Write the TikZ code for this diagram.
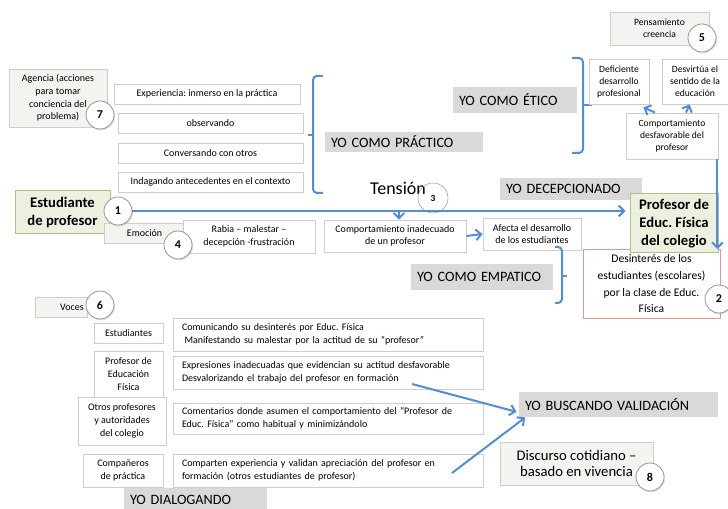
\documentclass[tikz,border=0pt]{standalone}
\usepackage{fontspec}
\setmainfont{Carlito}
\usetikzlibrary{arrows.meta,shadows}
\frenchspacing

\definecolor{linkblue}{RGB}{84,141,212}
\definecolor{labelgray}{RGB}{217,217,217}
\definecolor{notefill}{RGB}{243,243,240}
\definecolor{boxline}{RGB}{205,205,205}
\definecolor{greenfill}{RGB}{235,241,222}
\definecolor{greenline}{RGB}{176,192,140}
\definecolor{redline}{RGB}{222,150,150}
\definecolor{circline}{RGB}{150,150,150}

\tikzset{every picture/.style={line width=0.75pt}}
\tikzset{
  wh/.style 2 args={minimum width=#1*0.75pt, minimum height=#2*0.75pt},
  txtbox/.style={draw=boxline, fill=white, line width=0.6pt, inner sep=1pt, align=center, font=\fontsize{7.5}{9.5}\selectfont},
  notebox/.style={txtbox, fill=notefill},
  tinybox/.style={txtbox, font=\fontsize{7.2}{9}\selectfont},
  leftbox/.style={txtbox, align=left, text width=219pt, inner xsep=6.75pt, font=\fontsize{7.5}{10}\selectfont},
  ylabel/.style={fill=labelgray, inner xsep=4.5pt, inner ysep=0pt, align=left, font=\fontsize{10.7}{13}\selectfont},
  greenbox/.style={draw=greenline, fill=greenfill, line width=0.75pt, align=center, inner sep=1pt, font=\fontsize{11}{13.5}\selectfont\bfseries},
  numcirc/.style={circle, draw=circline, fill=white, line width=0.6pt, minimum size=21pt, inner sep=0pt, font=\fontsize{9}{10}\selectfont\bfseries, drop shadow={shadow xshift=0.8pt, shadow yshift=-1pt, opacity=0.25}},
  thincirc/.style={circle, draw=circline, line width=0.4pt, minimum size=22.5pt, inner sep=0pt, font=\fontsize{7}{8}\selectfont\bfseries},
  link/.style={draw=linkblue, line width=1.5pt, -{Straight Barb[length=4pt,width=8pt]}},
  brace/.style={draw=linkblue, line width=1.5pt, rounded corners=3pt},
}

\begin{document}
\begin{tikzpicture}[x=0.75pt,y=0.75pt,yscale=-1,xscale=1]
\useasboundingbox (0,0) rectangle (728,509);

% Text Node
\node (agencia) at (58,98) [notebox, wh={98}{58}] {Agencia (acciones\\para tomar\\conciencia del\\problema)};
% Text Node
\node (exper) at (207,94) [txtbox, wh={186}{20}] {Experiencia: inmerso en la práctica};
\node (observ) at (210.5,123) [txtbox, wh={185}{20}] {observando};
\node (convers) at (210.5,153) [txtbox, wh={185}{20}] {Conversando con otros};
\node (indag) at (210.5,182) [txtbox, wh={185}{20}] {Indagando antecedentes en el contexto};

%Shape: Brace
\draw [brace] (323,76) -- (313,76) -- (313,193) -- (323,193);
\draw [brace] (313,135) -- (308,135);
% Text Node
\node (practico) at (404,142) [ylabel, text width=109.5pt, minimum height=15pt] {YO COMO PRÁCTICO};
\node (etico) at (515,100) [ylabel, text width=84pt, minimum height=19.5pt] {YO COMO ÉTICO};

%Shape: Brace
\draw [brace] (572,58) -- (583,58) -- (583,153) -- (572,153);
\draw [brace] (583,105) -- (592,105);
% Text Node
\node (pensam) at (659.5,28.5) [notebox, font=\fontsize{7.2}{9}\selectfont, wh={99}{33}] {Pensamiento\\creencia};
\node (deficiente) at (619,81.5) [tinybox, wh={60}{45}] {Deficiente\\desarrollo\\profesional};
\node (desvirtua) at (695,81.5) [tinybox, wh={66}{45}] {Desvirtúa el\\sentido de la\\educación};
\node (desfav) at (672,136) [tinybox, wh={92}{46}] {Comportamiento\\desfavorable del\\profesor};
%Straight Lines
\draw [link] ([xshift=-12.75pt]desfav.north) -- ([xshift=-4.5pt,yshift=2.25pt]deficiente.south east);
\draw [link] ([xshift=10.5pt]desfav.north) -- ([xshift=-4pt]desvirtua.south);

% Text Node
\node (decepc) at (571,189) [ylabel, text width=97.5pt, minimum height=16.5pt] {YO DECEPCIONADO};
\node (desinteres) at (651.5,284) [txtbox, draw=redline, wh={137}{69}, font=\fontsize{8.7}{12.5}\selectfont] {Desinterés de los\\estudiantes (escolares)\\por la clase de Educ.\\Física};
\node (profesor) at (674,223.5) [greenbox, wh={88}{59}] {Profesor de\\Educ. Física\\del colegio};
%Straight Lines
\draw [link] ([xshift=-0.75pt]desfav.south east) -- ([xshift=-0.75pt]desfav.south east |- desinteres.north);

% Text Node
\node (estudiante) at (62.5,212.5) [greenbox, wh={95}{43}] {Estudiante\\de profesor};
\node (emocion) at (144.5,233) [notebox, wh={81}{20}] {Emoción};
\node (rabia) at (249,236.5) [txtbox, wh={132}{33}] {Rabia – malestar –\\decepción -frustración};
\node (tension) at (398,188) [font=\fontsize{13.5}{15}\selectfont] {Tensión};
\node (inadec) at (395,236) [txtbox, wh={142}{32}] {Comportamiento inadecuado\\de un profesor};
\node (afecta) at (532,234) [txtbox, wh={98}{32}] {Afecta el desarrollo\\de los estudiantes};
\node (empatico) at (482,277) [ylabel, text width=97.5pt, minimum height=19.5pt] {YO COMO EMPATICO};

%Shape: Brace
\draw [brace] (555,247) -- (562,247) -- (562,303) -- (555,303);
\draw [brace] (562,276) -- (567,276);

%Shape: Circle
\node (n1) at (118,211) [numcirc] {1};
\node (n3) at (433,198) [thincirc] {3};
%Straight Lines
\draw [link, shorten >=3pt] (n1.east) -- (n1.east -| profesor.west);
\coordinate (tdrop) at (399,211);
\draw [link] (tdrop) -- (tdrop |- inadec.north);
\draw [link] (inadec.east) -- (afecta.west);

% Text Node
\node (voces) at (61,307) [notebox, wh={52}{20}, text width=34pt, align=right] {Voces};
\node (estud) at (128.5,333) [txtbox, wh={69}{20}] {Estudiantes};
\node (comunic) at (328,334.5) [leftbox, minimum height=24.75pt] {Comunicando su desinterés por Educ. Física\\\hspace{0.25em}Manifestando su malestar por la actitud de su “profesor”};
\node (profef) at (128.5,374) [txtbox, wh={69}{46}] {Profesor de\\Educación\\Física};
\node (expres) at (328,372.5) [leftbox, minimum height=24.75pt] {Expresiones inadecuadas que evidencian su actitud desfavorable\\Desvalorizando el trabajo del profesor en formación};
\node (otros) at (122,421) [txtbox, wh={88}{48}] {Otros profesores\\y autoridades\\del colegio};
\node (coment) at (328,418.5) [leftbox, minimum height=23.25pt] {Comentarios donde asumen el comportamiento del “Profesor de\\Educ. Física” como habitual y minimizándolo};
\node (compan) at (123,470.5) [txtbox, wh={80}{33}] {Compañeros\\de práctica};
\node (compart) at (328,470.5) [leftbox, minimum height=24.75pt] {Comparten experiencia y validan apreciación del profesor en\\formación (otros estudiantes de profesor)};
\node (dialog) at (195.5,500) [ylabel, text width=98.25pt, minimum height=18pt] {YO DIALOGANDO};

\node (buscando) at (618.5,404.5) [ylabel, text width=140.25pt, minimum height=18.75pt] {YO BUSCANDO VALIDACIÓN};
\node (discurso) at (576.5,463.5) [notebox, wh={153}{43}, font=\fontsize{11}{12.5}\selectfont] {Discurso cotidiano –\\basado en vivencia};
%Straight Lines
\coordinate (expresend) at (412,384);
\coordinate (compartend) at (452,473);
\draw [link] (expresend) -- ([xshift=-1.5pt,yshift=5.5pt]buscando.west);
\draw [link] (compartend) -- ([xshift=5pt]buscando.south west);

%Shape: Circle
\node (n2) at (719,299) [numcirc] {2};
\node (n4) at (178,245) [numcirc] {4};
\node (n5) at (702,38) [numcirc] {5};
\node (n6) at (100,305) [numcirc] {6};
\node (n7) at (100,115) [numcirc] {7};
\node (n8) at (650,477) [numcirc] {8};

\end{tikzpicture}
\end{document}
